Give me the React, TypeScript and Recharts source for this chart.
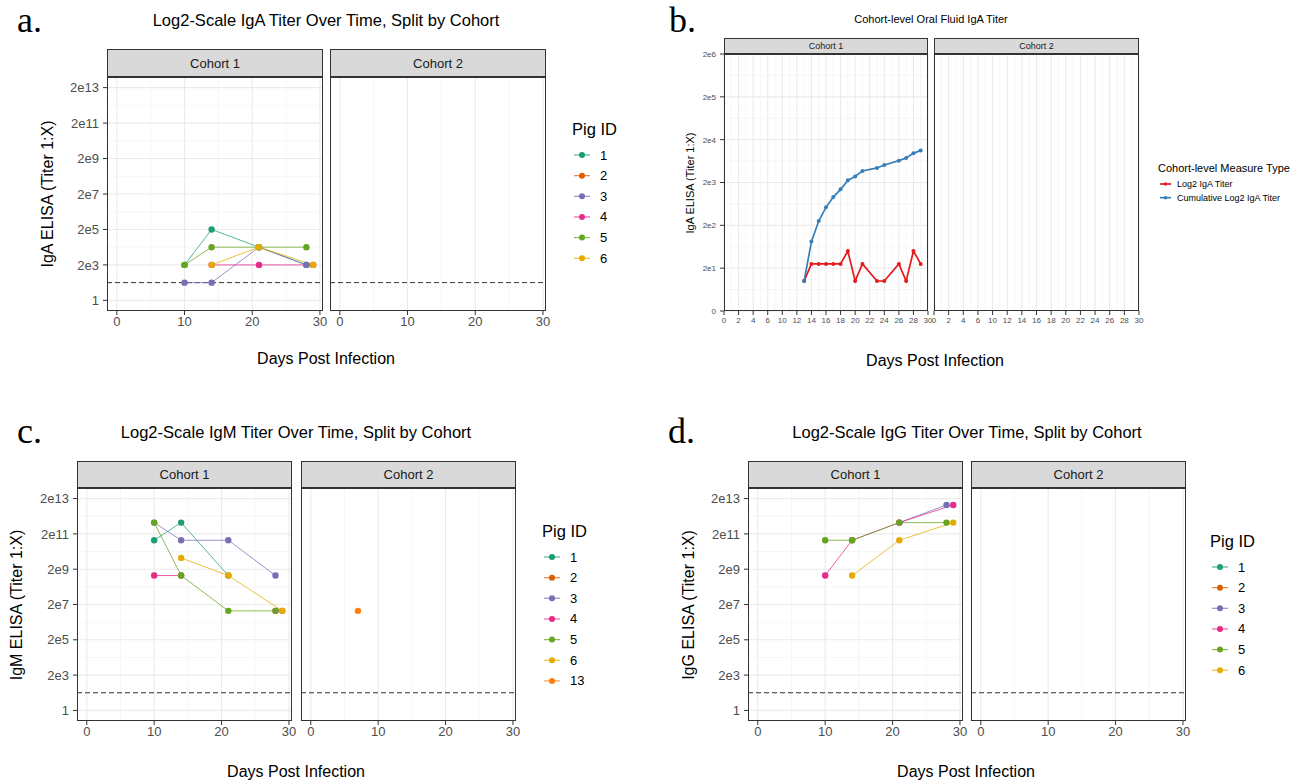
import React from 'react';
import { LineChart, Line, XAxis, YAxis, CartesianGrid, ReferenceLine } from 'recharts';

const SANS = '"Liberation Sans", Arial, Helvetica, sans-serif';
const SERIF = '"Liberation Serif", "Times New Roman", serif';

// ---- shared log2 scale used by panels a, c, d ----
const log2Ticks = [1, 3, 5, 7, 9, 11, 13];
const log2Labels = ['1', '2e3', '2e5', '2e7', '2e9', '2e11', '2e13'];
const log2Minor = [2, 4, 6, 8, 10, 12];
const dayTicks = [0, 10, 20, 30];
const dayMinor = [5, 15, 25];
const limitOfDetection = 2;

const pigIds = ['1', '2', '3', '4', '5', '6'];
const pigIdsIgm = ['1', '2', '3', '4', '5', '6', '13'];
const pigColors: Record<string, string> = {
  '1': '#1B9E77',
  '2': '#D95F02',
  '3': '#7570B3',
  '4': '#E7298A',
  '5': '#66A61E',
  '6': '#E6AB02',
  '13': '#FF7F0E',
};

// ---- a. serum IgA, cohort 1  [day, log2 titer] ----
const igaPig1 = [[10, 3], [14, 5], [21, 4], [28, 3]];
const igaPig3 = [[10, 2], [14, 2], [21, 4], [28, 3]];
const igaPig4 = [[14, 3], [21, 3], [29, 3]];
const igaPig5 = [[10, 3], [14, 4], [21, 4], [28, 4]];
const igaPig6 = [[14, 3], [21, 4], [29, 3]];

// ---- c. serum IgM ----
const igmPig1 = [[10, 10.64], [14, 11.64], [21, 8.64]];
const igmPig3 = [[10, 11.64], [14, 10.64], [21, 10.64], [28, 8.64]];
const igmPig4 = [[10, 8.64], [14, 8.64], [21, null], [28, 6.64], [29, 6.64]];
const igmPig5 = [[10, 11.64], [14, 8.64], [21, 6.64], [28, 6.64]];
const igmPig6 = [[14, 9.64], [21, 8.64], [29, 6.64]];
const igmPig13 = [[7, 6.64]]; // cohort 2

// ---- d. serum IgG, cohort 1 ----
const iggPig3 = [[21, 11.64], [28, 12.64]];
const iggPig4 = [[10, 8.64], [14, 10.64], [21, 11.64], [29, 12.64]];
const iggPig5 = [[10, 10.64], [14, 10.64], [21, 11.64], [28, 11.64]];
const iggPig6 = [[14, 8.64], [21, 10.64], [29, 11.64]];

// ---- b. oral fluid IgA, cohort level ----
const oralDays = [13, 14, 15, 16, 17, 18, 19, 20, 21, 23, 24, 26, 27, 28, 29];
const oralLog2 = [0.7, 1.1, 1.1, 1.1, 1.1, 1.1, 1.4, 0.7, 1.1, 0.7, 0.7, 1.1, 0.7, 1.4, 1.1];
const oralCumulative = [0.7, 1.62, 2.1, 2.42, 2.66, 2.84, 3.05, 3.14, 3.27, 3.34, 3.41, 3.51, 3.57, 3.68, 3.75];
const oralXTicks = [2, 4, 6, 8, 10, 12, 14, 16, 18, 20, 22, 24, 26, 28, 30];
const oralXLabels = ['0', '2', '4', '6', '10', '12', '14', '16', '18', '20', '22', '24', '26', '28', '30'];
const oralXMinor = [3, 5, 7, 9, 11, 13, 15, 17, 19, 21, 23, 25, 27, 29];
const oralYTicks = [0, 1, 2, 3, 4, 5, 6];
const oralYLabels = ['0', '2e1', '2e2', '2e3', '2e4', '2e5', '2e6'];
const oralYMinor = [0.5, 1.5, 2.5, 3.5, 4.5, 5.5];
const oralMeasures = ['Log2 IgA Titer', 'Cumulative Log2 IgA Titer'];
const oralColors = ['#E41A1C', '#377EB8'];

type Pt = { x: number; y: number | null };
type Series = { id: string; color: string; pts: Pt[] };

const pig = (id: string, arr: (number | null)[][]): Series => ({
  id,
  color: pigColors[id],
  pts: arr.map(([x, y]) => ({ x: x as number, y })),
});

const igaSeries = [pig('1', igaPig1), pig('3', igaPig3), pig('4', igaPig4), pig('5', igaPig5), pig('6', igaPig6)];
const igmSeries = [pig('1', igmPig1), pig('3', igmPig3), pig('4', igmPig4), pig('5', igmPig5), pig('6', igmPig6)];
const igmSeries2 = [pig('13', igmPig13)];
const iggSeries = [pig('3', iggPig3), pig('4', iggPig4), pig('5', iggPig5), pig('6', iggPig6)];
const oralSeries: Series[] = [
  { id: oralMeasures[0], color: oralColors[0], pts: oralDays.map((x, i) => ({ x, y: oralLog2[i] })) },
  { id: oralMeasures[1], color: oralColors[1], pts: oralDays.map((x, i) => ({ x, y: oralCumulative[i] })) },
];

interface FacetProps {
  left: number;
  top: number;
  width: number;
  height: number;
  strip: string;
  stripH: number;
  stripFont: number;
  xDomain: [number, number];
  xTicks: number[];
  xMinor: number[];
  xLabels?: string[];
  yDomain: [number, number];
  yTicks: number[];
  yMinor: number[];
  yLabels: string[];
  showY?: boolean;
  tickFont: number;
  refY?: number;
  series: Series[];
  lineW: number;
  dotR: number;
  lineOpacity: number;
}

const Y_AXIS_W = 70;
const X_AXIS_H = 30;
const RIGHT_PAD = 14;
const TOP_PAD = 10; // room for a tick label sitting on the panel's top edge

const labelFor = (ticks: number[], labels?: string[]) => (v: number) => {
  if (!labels) return String(v);
  const i = ticks.indexOf(v);
  return i >= 0 ? labels[i] : '';
};

const Facet = (p: FacetProps) => {
  const tickStyle = { fill: '#4D4D4D', fontSize: p.tickFont, fontFamily: SANS };
  return (
    <>
      <div style={{ position: 'absolute', left: p.left - Y_AXIS_W, top: p.top - TOP_PAD }}>
        <LineChart
          width={Y_AXIS_W + p.width + RIGHT_PAD}
          height={TOP_PAD + p.height + X_AXIS_H}
          margin={{ top: TOP_PAD, right: RIGHT_PAD, bottom: 0, left: 0 }}
          data={p.xDomain.map((x) => ({ x }))}
        >
          <CartesianGrid horizontalValues={p.yMinor} verticalValues={p.xMinor} stroke="#F0F0F0" strokeWidth={0.6} />
          <CartesianGrid horizontalValues={p.yTicks} verticalValues={p.xTicks} stroke="#EBEBEB" strokeWidth={1.1} />
          <XAxis
            type="number"
            dataKey="x"
            domain={p.xDomain}
            ticks={p.xTicks}
            interval={0}
            allowDataOverflow
            height={X_AXIS_H}
            axisLine={false}
            tickSize={4}
            tickMargin={2}
            tickLine={{ stroke: '#333333' }}
            tick={tickStyle}
            tickFormatter={labelFor(p.xTicks, p.xLabels)}
          />
          <YAxis
            type="number"
            dataKey="y"
            domain={p.yDomain}
            ticks={p.yTicks}
            interval={0}
            allowDataOverflow
            width={Y_AXIS_W}
            axisLine={false}
            tickSize={4}
            tickMargin={4}
            tickLine={p.showY ? { stroke: '#333333' } : false}
            tick={p.showY ? tickStyle : false}
            tickFormatter={labelFor(p.yTicks, p.yLabels)}
          />
          {p.refY != null && (
            <ReferenceLine y={p.refY} stroke="#333333" strokeDasharray="5 3" strokeWidth={1} />
          )}
          {p.series.map((s) => (
            <Line
              key={s.id}
              data={s.pts}
              dataKey="y"
              type="linear"
              stroke={s.color}
              strokeWidth={p.lineW}
              strokeOpacity={p.lineOpacity}
              connectNulls={false}
              isAnimationActive={false}
              activeDot={false}
              dot={(d: any) =>
                d.cy == null || d.payload?.y == null ? (
                  <g key={`${s.id}-n${d.index}`} />
                ) : (
                  <circle key={`${s.id}-${d.index}`} cx={d.cx} cy={d.cy} r={p.dotR} fill={s.color} />
                )
              }
            />
          ))}
        </LineChart>
      </div>
      <div
        style={{
          position: 'absolute',
          left: p.left,
          top: p.top - p.stripH,
          width: p.width,
          height: p.stripH,
          boxSizing: 'border-box',
          border: '1px solid #333333',
          background: '#D9D9D9',
          display: 'flex',
          alignItems: 'center',
          justifyContent: 'center',
          fontFamily: SANS,
          fontSize: p.stripFont,
          color: '#1A1A1A',
        }}
      >
        {p.strip}
      </div>
      <div
        style={{
          position: 'absolute',
          left: p.left,
          top: p.top,
          width: p.width,
          height: p.height,
          boxSizing: 'border-box',
          border: '1px solid #333333',
          pointerEvents: 'none',
        }}
      />
    </>
  );
};

const logScale = {
  xDomain: [-1.45, 30.45] as [number, number],
  xTicks: dayTicks,
  xMinor: dayMinor,
  yDomain: [0.4, 13.6] as [number, number],
  yTicks: log2Ticks,
  yMinor: log2Minor,
  yLabels: log2Labels,
  refY: limitOfDetection,
  tickFont: 13,
  stripFont: 13,
  lineW: 1,
  dotR: 3.2,
  lineOpacity: 0.75,
};

const oralScale = {
  xDomain: [2, 30] as [number, number],
  xTicks: oralXTicks,
  xMinor: oralXMinor,
  xLabels: oralXLabels,
  yDomain: [0, 6] as [number, number],
  yTicks: oralYTicks,
  yMinor: oralYMinor,
  yLabels: oralYLabels,
  tickFont: 8,
  stripFont: 9,
  lineW: 1.7,
  dotR: 2,
  lineOpacity: 1,
};

const PigLegend = ({ x, y, ids }: { x: number; y: number; ids: string[] }) => (
  <g>
    <text x={x} y={y} fontSize={16.5} dominantBaseline="central">
      Pig ID
    </text>
    {ids.map((id, i) => {
      const cy = y + 26 + i * 20.65;
      return (
        <g key={id}>
          <line x1={x + 2} x2={x + 18} y1={cy} y2={cy} stroke={pigColors[id]} strokeOpacity={0.75} strokeWidth={1.2} />
          <circle cx={x + 10} cy={cy} r={3} fill={pigColors[id]} />
          <text x={x + 28} y={cy} fontSize={13} dominantBaseline="central">
            {id}
          </text>
        </g>
      );
    })}
  </g>
);

const YTitle = ({ x, y, size, children }: { x: number; y: number; size: number; children: string }) => (
  <text x={x} y={y} fontSize={size} textAnchor="middle" dominantBaseline="central" transform={`rotate(-90 ${x} ${y})`}>
    {children}
  </text>
);

const CText = ({ x, y, size, children }: { x: number; y: number; size: number; children: string }) => (
  <text x={x} y={y} fontSize={size} textAnchor="middle" dominantBaseline="central">
    {children}
  </text>
);

export default function App() {
  return (
    <div
      style={{
        position: 'absolute',
        left: 0,
        top: 0,
        width: 1304,
        height: 783,
        background: '#ffffff',
        overflow: 'hidden',
        fontFamily: SANS,
      }}
    >
      {/* a. */}
      <Facet {...logScale} left={107} top={77} width={216} height={234} strip="Cohort 1" stripH={28} showY series={igaSeries} />
      <Facet {...logScale} left={330} top={77} width={216} height={234} strip="Cohort 2" stripH={28} series={[]} />

      {/* b. */}
      <Facet {...oralScale} left={724} top={54} width={204} height={257} strip="Cohort 1" stripH={16} showY series={oralSeries} />
      <Facet {...oralScale} left={934} top={54} width={205} height={257} strip="Cohort 2" stripH={16} series={[]} />

      {/* c. */}
      <Facet {...logScale} left={77} top={488} width={215} height={233} strip="Cohort 1" stripH={27} showY series={igmSeries} />
      <Facet {...logScale} left={301} top={488} width={215} height={233} strip="Cohort 2" stripH={27} series={igmSeries2} />

      {/* d. */}
      <Facet {...logScale} left={748} top={488} width={215} height={233} strip="Cohort 1" stripH={27} showY series={iggSeries} />
      <Facet {...logScale} left={971} top={488} width={215} height={233} strip="Cohort 2" stripH={27} series={[]} />

      <svg
        width={1304}
        height={783}
        style={{ position: 'absolute', left: 0, top: 0, pointerEvents: 'none' }}
        fontFamily={SANS}
        fill="#000000"
      >
        {/* panel letters */}
        <g fontFamily={SERIF} fontSize={36}>
          <text x={17} y={32}>a.</text>
          <text x={669} y={32}>b.</text>
          <text x={17} y={443}>c.</text>
          <text x={668} y={443}>d.</text>
        </g>

        {/* a. */}
        <CText x={326} y={20} size={16.5}>Log2-Scale IgA Titer Over Time, Split by Cohort</CText>
        <YTitle x={47} y={194} size={16}>IgA ELISA (Titer 1:X)</YTitle>
        <CText x={326} y={358} size={16}>Days Post Infection</CText>
        <PigLegend x={572} y={129} ids={pigIds} />

        {/* b. */}
        <CText x={931} y={19} size={11}>Cohort-level Oral Fluid IgA Titer</CText>
        <YTitle x={690} y={183} size={11}>IgA ELISA (Titer 1:X)</YTitle>
        <CText x={935} y={360} size={16}>Days Post Infection</CText>
        <text x={1158} y={168} fontSize={11} dominantBaseline="central">
          Cohort-level Measure Type
        </text>
        {oralMeasures.map((m, i) => {
          const cy = 184 + i * 13.7;
          return (
            <g key={m}>
              <line x1={1160} x2={1171} y1={cy} y2={cy} stroke={oralColors[i]} strokeWidth={1.7} />
              <circle cx={1165.5} cy={cy} r={1.8} fill={oralColors[i]} />
              <text x={1177} y={cy} fontSize={9} dominantBaseline="central">
                {m}
              </text>
            </g>
          );
        })}

        {/* c. */}
        <CText x={296} y={432} size={16.5}>Log2-Scale IgM Titer Over Time, Split by Cohort</CText>
        <YTitle x={16} y={605} size={16}>IgM ELISA (Titer 1:X)</YTitle>
        <CText x={296} y={771} size={16}>Days Post Infection</CText>
        <PigLegend x={542} y={531} ids={pigIdsIgm} />

        {/* d. */}
        <CText x={967} y={432} size={16.5}>Log2-Scale IgG Titer Over Time, Split by Cohort</CText>
        <YTitle x={688} y={605} size={16}>IgG ELISA (Titer 1:X)</YTitle>
        <CText x={966} y={771} size={16}>Days Post Infection</CText>
        <PigLegend x={1210} y={541} ids={pigIds} />
      </svg>
    </div>
  );
}
